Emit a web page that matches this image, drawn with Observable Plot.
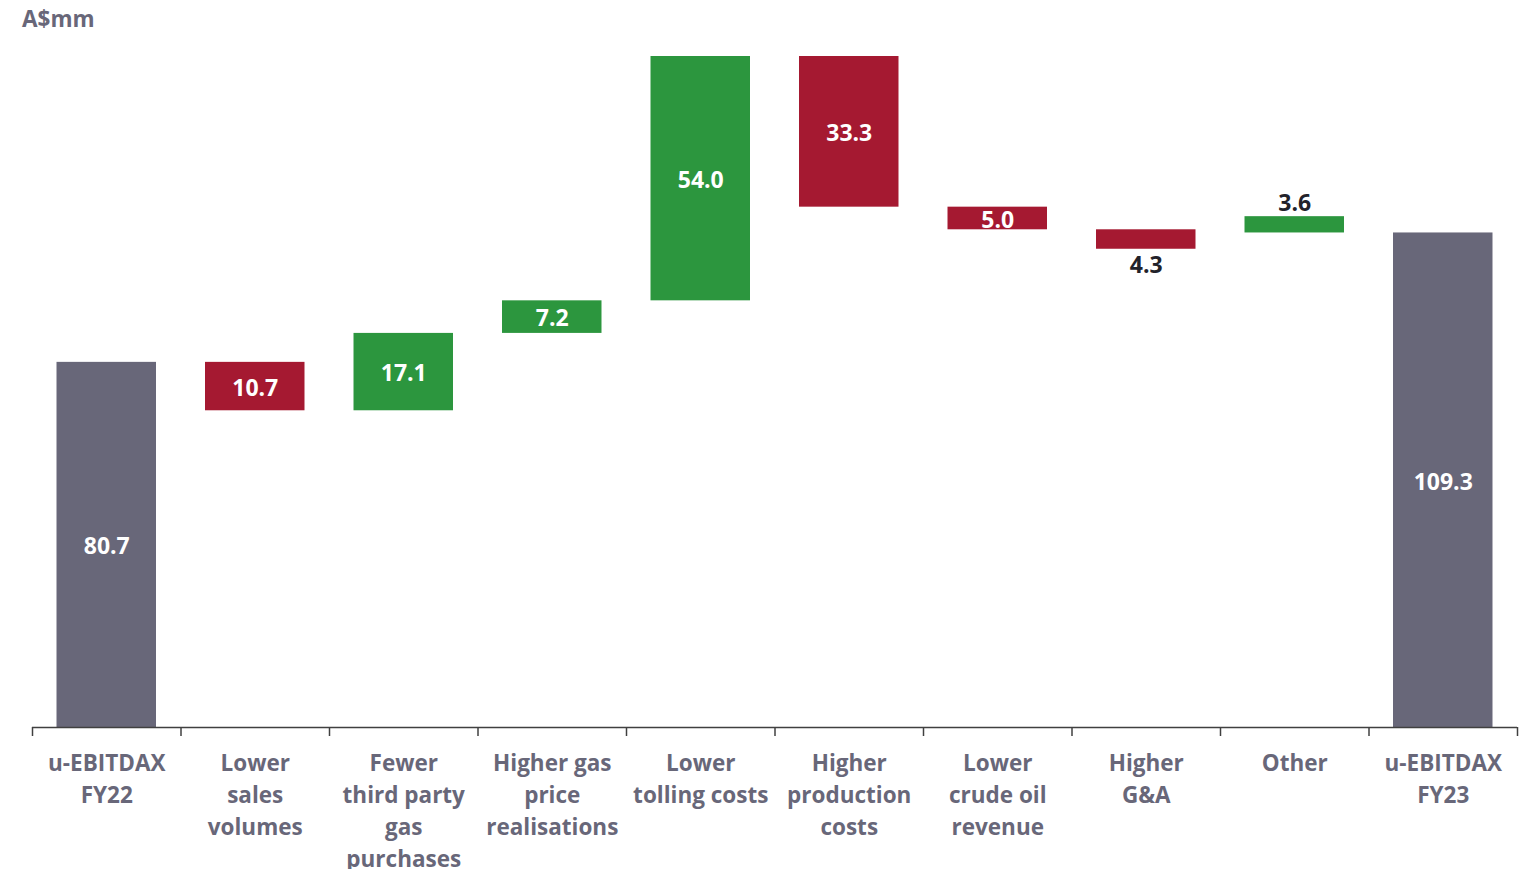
<!DOCTYPE html>
<html>
<head>
<meta charset="utf-8">
<script src="https://cdn.jsdelivr.net/npm/d3@7"></script>
<script src="https://cdn.jsdelivr.net/npm/@observablehq/plot@0.6"></script>
<style>
  html, body { margin: 0; padding: 0; background: #fff; }
  #wrap { position: relative; width: 1529px; height: 869px; overflow: hidden; }
  #unit { position: absolute; left: 22px; top: 3px; font: 700 22.5px "Open Sans", sans-serif; color: #686779; }
</style>
</head>
<body>
<div id="wrap"><div id="unit">A$mm</div><div id="chart"></div></div>
<script>
const categories = [
  "u-EBITDAX\nFY22",
  "Lower\nsales\nvolumes",
  "Fewer\nthird party\ngas\npurchases",
  "Higher gas\nprice\nrealisations",
  "Lower\ntolling costs",
  "Higher\nproduction\ncosts",
  "Lower\ncrude oil\nrevenue",
  "Higher\nG&A",
  "Other",
  "u-EBITDAX\nFY23"
];
const values = [80.7, -10.7, 17.1, 7.2, 54.0, -33.3, -5.0, -4.3, 3.6, 109.3];
const kinds = ["total", "delta", "delta", "delta", "delta", "delta", "delta", "delta", "delta", "total"];
// where each bar starts: from zero, from the running total, or from the final total (as drawn in the source)
const anchors = ["zero", "prev", "prev", "prev", "prev", "prev", "prev", "prev", "final", "zero"];
const labelPlacement = ["in", "in", "in", "in", "in", "in", "in", "below", "above", "in"];

const colors = { total: "#686779", up: "#2C963E", down: "#A51931" };

const finalTotal = values[values.length - 1];
let run = 0;
const rows = categories.map((c, i) => {
  const v = values[i];
  let start, end, type;
  if (kinds[i] === "total") { start = 0; end = v; run = v; type = "total"; }
  else {
    start = anchors[i] === "final" ? finalTotal : run;
    end = start + v;
    run = run + v;
    type = v >= 0 ? "up" : "down";
  }
  return { cat: c, value: v, start, end, type, lo: Math.min(start, end), hi: Math.max(start, end),
           mid: (start + end) / 2, place: labelPlacement[i] };
});
const yMax = d3.max(rows, d => d.hi);

const font = "'Open Sans', sans-serif";
const axisColor = "#404040";
const chart = Plot.plot({
  width: 1529,
  height: 869,
  marginLeft: 32,
  marginRight: 12,
  marginTop: 56,
  marginBottom: 142,
  style: { fontFamily: font, background: "white" },
  x: { domain: categories, paddingInner: 0.33, paddingOuter: 0.165, round: false, axis: null },
  y: { domain: [0, yMax], axis: null },
  marks: [
    Plot.barY(rows, { x: "cat", y1: "start", y2: "end", fill: d => colors[d.type] }),
    Plot.ruleY([0], { stroke: axisColor, strokeWidth: 1.5 }),
    Plot.ruleX(categories, { x: d => d, y1: 0, y2: 0, insetBottom: -9, dx: -74.25, stroke: axisColor, strokeWidth: 1.5 }),
    Plot.ruleX([categories[categories.length - 1]], { x: d => d, y1: 0, y2: 0, insetBottom: -9, dx: 74.25, stroke: axisColor, strokeWidth: 1.5 }),
    Plot.text(rows.filter(d => d.place === "in"), { x: "cat", y: "mid", text: d => Math.abs(d.value).toFixed(1),
      fill: "white", fontSize: 23, fontWeight: 700, dy: 2 }),
    Plot.text(rows.filter(d => d.place === "above"), { x: "cat", y: "hi", text: d => Math.abs(d.value).toFixed(1),
      fill: "#22222a", fontSize: 23, fontWeight: 700, dy: -13 }),
    Plot.text(rows.filter(d => d.place === "below"), { x: "cat", y: "lo", text: d => Math.abs(d.value).toFixed(1),
      fill: "#22222a", fontSize: 23, fontWeight: 700, dy: 16 }),
    Plot.text(rows, { x: "cat", frameAnchor: "bottom", lineAnchor: "top", dy: 21, text: "cat",
      fill: "#686779", fontSize: 22.5, fontWeight: 700, lineHeight: 1.42 })
  ]
});
document.getElementById("chart").appendChild(chart);
</script>
</body>
</html>
